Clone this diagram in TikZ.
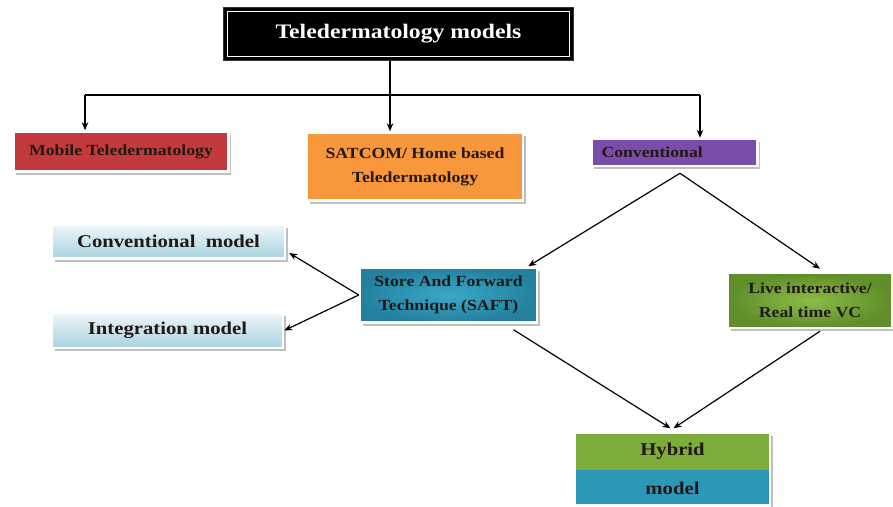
\documentclass[tikz,border=0pt]{standalone}
\usepackage{fontspec}
\setmainfont{Liberation Serif}[FakeStretch=1.15]
\usetikzlibrary{arrows.meta,shadows,calc}

\definecolor{txt}{HTML}{221814}
\definecolor{mobred}{HTML}{C23A3C}
\definecolor{satorange}{HTML}{F7963A}
\definecolor{convpurple}{HTML}{7B4DAA}
\definecolor{paletop}{HTML}{EEF7FA}
\definecolor{palebot}{HTML}{A8D2DF}
\definecolor{tealin}{HTML}{3AA8C8}
\definecolor{tealout}{HTML}{23819F}
\definecolor{greenin}{HTML}{8CBB48}
\definecolor{greenout}{HTML}{5F8E2A}
\definecolor{hybgreen}{HTML}{7DAC3B}
\definecolor{hybteal}{HTML}{2C98B8}

\begin{document}
\begin{tikzpicture}[x=1pt,y=-1pt,
  box/.style={draw=white, line width=2.5pt, inner sep=0pt, align=center,
    text=txt, font=\fontsize{15.4}{24}\selectfont\bfseries,
    drop shadow={shadow xshift=2.5pt, shadow yshift=-3pt, fill=black!45, opacity=.55}},
  bigbox/.style={box, font=\fontsize{18}{24}\selectfont\bfseries},
  conn/.style={draw=black, line width=1.2pt, -{Stealth[length=8pt,width=6.5pt]}},
  plain/.style={draw=black, line width=1.2pt}]

\useasboundingbox[fill=white] (0,0) rectangle (893,506);

% title
\node[fill=black, draw=black!80, line width=1pt, minimum width=350pt, minimum height=53pt,
      text=white, font=\fontsize{20.6}{24}\selectfont\bfseries] (title) at (398.5,33.5)
      {Teledermatology models};
\draw[white, line width=0.9pt] ([shift={(4.5,4.5)}]title.north west)
      rectangle ([shift={(-4.5,-4.5)}]title.south east);

% first level
\node[box, fill=mobred, minimum width=215pt, minimum height=40pt] (mob) at (121,151.5)
      {Mobile Teledermatology};
\node[box, fill=satorange, minimum width=216pt, minimum height=68pt] (sat) at (415,166.5)
      {SATCOM/ Home based\\Teledermatology};
\node[box, fill=convpurple, minimum height=27pt, text width=146pt, align=left,
      inner xsep=10pt] (conv) at (674.5,152.5) {Conventional};

% second level
\node[bigbox, top color=paletop, bottom color=palebot, minimum width=233pt,
      minimum height=34pt] (convm) at (168.5,241.5) {Conventional\ \ model};
\node[bigbox, top color=paletop, bottom color=palebot, minimum width=231pt,
      minimum height=35pt] (integ) at (167.5,330.5) {Integration model};
\node[box, inner color=tealin, outer color=tealout, minimum width=177pt,
      minimum height=55pt] (saft) at (448.5,295) {Store And Forward\\Technique (SAFT)};
\node[box, inner color=greenin, outer color=greenout, minimum width=164pt,
      minimum height=55pt] (live) at (810,300.5) {Live interactive/\\Real time VC};

% hybrid model: green upper band, teal lower band
\node[bigbox, fill=hybgreen, minimum width=195pt, minimum height=73pt,
      font=\fontsize{18}{39}\selectfont\bfseries,
      path picture={\fill[hybteal] ([yshift=-1pt]path picture bounding box.west)
                    rectangle (path picture bounding box.south east);}]
      (hyb) at (672.5,469) {Hybrid\\model};

% connectors from the title
\coordinate (hub) at (390,95);
\draw[plain] (title.south -| hub) -- (hub);
\draw[plain] (hub) -- (85,95) coordinate (lft);
\draw[plain] (hub) -- (700,95) coordinate (rgt);
\draw[conn] (lft) -- (lft |- mob.north);
\draw[conn] (hub) -- (hub |- sat.north);
\draw[conn] (rgt) -- (rgt |- conv.north);

% branches of the conventional model
\coordinate (vtx) at ($(conv.south)+(5.5,6)$);
\draw[conn] (vtx) -- ($(saft.north east)+(-10,0)$);
\draw[conn] (vtx) -- ($(live.north)+(10,-3)$);
\draw[conn] (saft.west) -- ($(convm.east)+(3,11.5)$);
\draw[conn] (saft.west) -- (integ.east);
\draw[conn] ($(saft.south)+(65,6)$) -- ($(hyb.north)+(-2,-3)$);
\draw[conn] ($(live.south)+(10,2)$) -- ($(hyb.north)+(1,-3)$);
\end{tikzpicture}
\end{document}
